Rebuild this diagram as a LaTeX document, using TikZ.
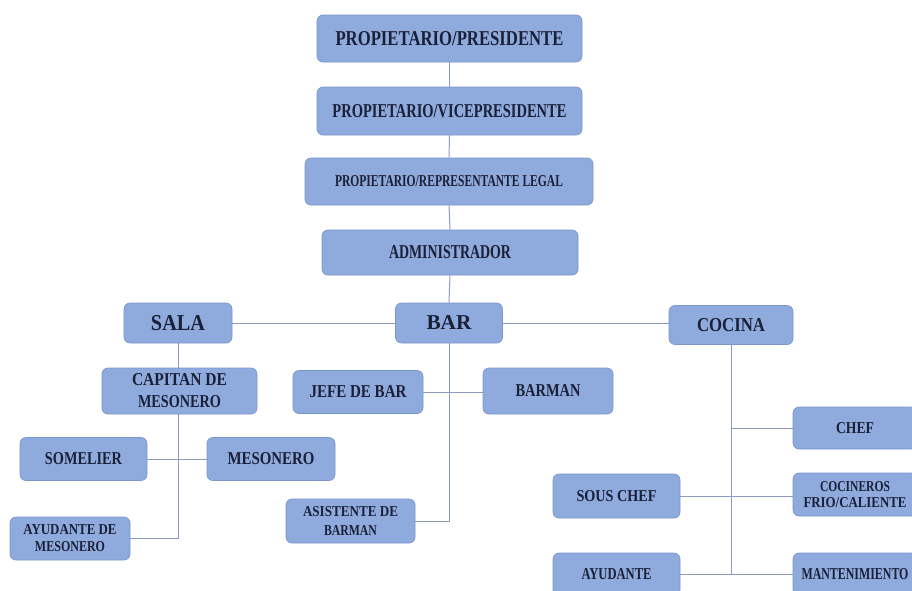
\documentclass[tikz,border=0pt]{standalone}
\usepackage{fontspec}
\setmainfont{Liberation Serif}
\usetikzlibrary{backgrounds}
\definecolor{boxfill}{RGB}{143,170,220}
\definecolor{boxdraw}{RGB}{122,150,206}
\definecolor{linec}{RGB}{140,155,192}
\definecolor{txt}{RGB}{26,32,56}
\newcommand{\fitt}[3]{\resizebox{#1pt}{#2pt}{\bfseries #3}}
\tikzset{
  orgbox/.style={draw=boxdraw, fill=boxfill, rounded corners=6pt, line width=0.7pt,
    inner sep=0pt, text=txt, align=center},
  conn/.style={draw=linec, line width=1pt}
}
\begin{document}
\begin{tikzpicture}[x=1pt,y=-1pt]
\useasboundingbox (0,0) rectangle (912,590);
\clip (0,0) rectangle (912,590);
% top chain
\node[orgbox, minimum width=265, minimum height=47] (pres) at (449.5,38.5) {\fitt{228}{14}{PROPIETARIO/PRESIDENTE}};
\node[orgbox, minimum width=265, minimum height=48] (vice) at (449.5,111) {\fitt{234}{13}{PROPIETARIO/VICEPRESIDENTE}};
\node[orgbox, minimum width=288, minimum height=47] (rep) at (449,181.5) {\fitt{228}{11}{PROPIETARIO/REPRESENTANTE LEGAL}};
\node[orgbox, minimum width=256, minimum height=45] (admin) at (450,252.5) {\fitt{122}{13}{ADMINISTRADOR}};
% departments
\node[orgbox, minimum width=108, minimum height=40] (sala) at (178,323) {\fitt{54}{15}{SALA}};
\node[orgbox, minimum width=107, minimum height=40] (bar) at (449,323) {\fitt{45}{14}{BAR}};
\node[orgbox, minimum width=124, minimum height=39] (cocina) at (731,325) {\fitt{68}{13}{COCINA}};
% sala
\node[orgbox, minimum width=155, minimum height=46, font=\fontsize{10}{22}\selectfont] (cap) at (179.5,391) {\fitt{95}{12}{CAPITAN DE}\\\fitt{83}{12}{MESONERO}};
\node[orgbox, minimum width=127, minimum height=43] (som) at (83.5,459) {\fitt{77}{12}{SOMELIER}};
\node[orgbox, minimum width=128, minimum height=43] (mes) at (271,459) {\fitt{87}{12}{MESONERO}};
\node[orgbox, minimum width=120, minimum height=43, font=\fontsize{10}{17}\selectfont] (aym) at (70,538.5) {\fitt{93}{10}{AYUDANTE DE}\\\fitt{70}{10}{MESONERO}};
% bar
\node[orgbox, minimum width=130, minimum height=43] (jefe) at (358,392) {\fitt{97}{12}{JEFE DE BAR}};
\node[orgbox, minimum width=130, minimum height=46] (barman) at (548,391) {\fitt{65}{12}{BARMAN}};
\node[orgbox, minimum width=129, minimum height=44, font=\fontsize{10}{19}\selectfont] (asis) at (350.5,521) {\fitt{95}{10}{ASISTENTE DE}\\\fitt{53}{10}{BARMAN}};
% cocina
\node[orgbox, minimum width=124, minimum height=42] (chef) at (855,428) {\fitt{38}{11}{CHEF}};
\node[orgbox, minimum width=124, minimum height=43, font=\fontsize{10}{16}\selectfont] (coc) at (855,494.5) {\fitt{70}{10}{COCINEROS}\\\fitt{103}{10}{FRIO/CALIENTE}};
\node[orgbox, minimum width=124, minimum height=43] (mant) at (855,574.5) {\fitt{107}{11}{MANTENIMIENTO}};
\node[orgbox, minimum width=127, minimum height=44] (sous) at (616.5,496) {\fitt{80}{11}{SOUS CHEF}};
\node[orgbox, minimum width=127, minimum height=43] (ayu) at (616.5,574.5) {\fitt{70}{11}{AYUDANTE}};
% connectors
\begin{scope}[on background layer]
\fill[white] (0,0) rectangle (912,590);
\draw[conn] (pres.south) -- (vice.north);
\draw[conn] (vice.south) -- (rep.north);
\draw[conn] (rep.south) -- (admin.north);
\draw[conn] (admin.south) -- (bar.north);
\draw[conn] (sala.east) -- (bar.west);
\draw[conn] (bar.east) -- (cocina.west |- bar.east);
\draw[conn] (sala.south) |- (aym.east);
\draw[conn] (som.east) -- (mes.west);
\draw[conn] (bar.south) |- (asis.east);
\draw[conn] (jefe.east) -- (jefe.east -| barman.west);
\coordinate (cj) at (cocina.south |- ayu.east);
\draw[conn] (cocina.south) -- (cj);
\draw[conn] (ayu.east) -- (mant.west);
\draw[conn] (chef.west) -- (chef.west -| cocina.south);
\draw[conn] (sous.east) -- (sous.east -| coc.west);
\end{scope}
\end{tikzpicture}
\end{document}
